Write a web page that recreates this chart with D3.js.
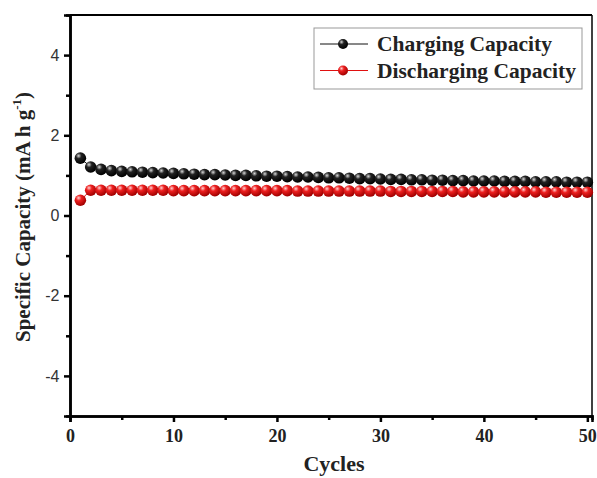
<!DOCTYPE html>
<html><head><meta charset="utf-8">
<script src="https://cdn.jsdelivr.net/npm/d3@7"></script>
<style>body{margin:0;background:#fff;} svg{display:block;}</style>
</head><body>
<svg id="c" width="597" height="478"></svg>
<script>
const cycles = d3.range(1, 51);
const charging = [1.43,1.21,1.15,1.12,1.10,1.09,1.08,1.07,1.06,1.05,1.04,1.03,1.02,1.02,1.01,1.00,1.00,0.99,0.98,0.98,
  0.97,0.96,0.96,0.95,0.94,0.94,0.93,0.92,0.92,0.91,0.90,0.90,0.89,0.89,0.88,0.88,0.87,0.87,0.86,0.86,
  0.86,0.85,0.85,0.85,0.84,0.84,0.84,0.83,0.83,0.83];
const discharging = [0.38,0.63,0.63,0.63,0.63,0.63,0.63,0.63,0.63,0.62,0.62,0.62,0.62,0.62,0.62,0.62,0.62,0.62,0.62,0.62,
  0.62,0.61,0.61,0.61,0.61,0.61,0.61,0.61,0.61,0.61,0.60,0.60,0.60,0.60,0.60,0.60,0.60,0.59,0.59,0.59,
  0.59,0.59,0.59,0.59,0.59,0.58,0.58,0.58,0.58,0.58];
const xTicks = [0,10,20,30,40,50];
const yTicks = [-4,-2,0,2,4];
const seriesNames = ["Charging Capacity","Discharging Capacity"];
const seriesColors = ["#111","#e01010"];

const svg = d3.select("#c");
const L=70, T=15, R=592, B=416;
const x = d3.scaleLinear().domain([0,50.45]).range([L,R]);
const y = d3.scaleLinear().domain([-5,5]).range([B,T]);

const defs = svg.append("defs");
function grad(id, light, mid, dark){
  const g = defs.append("radialGradient").attr("id",id).attr("cx","35%").attr("cy","30%").attr("r","70%");
  g.append("stop").attr("offset","0%").attr("stop-color",light);
  g.append("stop").attr("offset","35%").attr("stop-color",mid);
  g.append("stop").attr("offset","100%").attr("stop-color",dark);
}
grad("gk","#d8d8d8","#222","#000");
grad("gr","#ffd0d0","#ee2020","#a00000");
const grads = ["url(#gk)","url(#gr)"];

svg.append("line").attr("x1",L).attr("x2",R).attr("y1",T).attr("y2",T).attr("stroke","#000").attr("stroke-width",2);
svg.append("line").attr("x1",R).attr("x2",R).attr("y1",T).attr("y2",B).attr("stroke","#000").attr("stroke-width",1.5);

const fmt = d => String(d);
const xAxis = svg.append("g").attr("transform",`translate(0,${B})`)
  .call(d3.axisBottom(x).tickValues(xTicks).tickSize(6).tickFormat(fmt));
const xMinor = svg.append("g").attr("transform",`translate(0,${B})`)
  .call(d3.axisBottom(x).tickValues([5,15,25,35,45]).tickSize(4).tickFormat(""));
const yAxis = svg.append("g").attr("transform",`translate(${L},0)`)
  .call(d3.axisLeft(y).tickValues(yTicks).tickSize(6).tickFormat(fmt));
const yMinor = svg.append("g").attr("transform",`translate(${L},0)`)
  .call(d3.axisLeft(y).tickValues([-3,-1,1,3]).tickSize(4).tickFormat(""));
[xAxis,xMinor,yAxis,yMinor].forEach(g=>{
  g.select(".domain").attr("stroke","#000").attr("stroke-width",2.5);
  g.selectAll(".tick line").attr("stroke","#000").attr("stroke-width",2.5);
});
xAxis.selectAll("text").attr("font-family","Liberation Serif").attr("font-weight","bold")
  .attr("font-size",18).attr("fill","#222").attr("dy","0.95em");
yAxis.selectAll("text").attr("font-family","Liberation Sans").attr("font-size",16)
  .attr("fill","#333").attr("dx","-0.1em");

const data = [charging, discharging];
data.forEach((vals,i)=>{
  const pts = vals.map((v,j)=>[cycles[j],v]);
  svg.append("path").datum(pts).attr("fill","none").attr("stroke",seriesColors[i]).attr("stroke-width",1)
    .attr("d", d3.line().x(d=>x(d[0])).y(d=>y(d[1])));
  svg.append("g").selectAll("circle").data(pts).join("circle")
    .attr("cx",d=>x(d[0])).attr("cy",d=>y(d[1])).attr("r",5.8).attr("fill",grads[i]);
});

svg.append("text").attr("x",334).attr("y",471).attr("text-anchor","middle")
  .attr("font-family","Liberation Serif").attr("font-weight","bold").attr("font-size",22).attr("fill","#222").text("Cycles");
const yl = svg.append("text").attr("transform","translate(30,217) rotate(-90)").attr("text-anchor","middle")
  .attr("font-family","Liberation Serif").attr("font-weight","bold").attr("font-size",21).attr("fill","#222");
yl.append("tspan").text("Specific Capacity (mA h g");
yl.append("tspan").attr("font-size",13).attr("dy","-0.7em").text("-1");
yl.append("tspan").attr("dy","0.45em").text(")");

svg.append("rect").attr("x",314).attr("y",28).attr("width",268).attr("height",61)
  .attr("fill","#fff").attr("stroke","#999").attr("stroke-width",1);
seriesNames.forEach((n,i)=>{
  const yy = 44 + i*26.5;
  svg.append("line").attr("x1",320).attr("x2",368).attr("y1",yy).attr("y2",yy).attr("stroke",seriesColors[i]).attr("stroke-width",1);
  svg.append("circle").attr("cx",343).attr("cy",yy).attr("r",5).attr("fill",grads[i]);
  svg.append("text").attr("x",377).attr("y",yy+7).attr("font-family","Liberation Serif").attr("font-weight","bold")
    .attr("font-size",21.5).attr("fill","#222").text(n);
});
</script>
</body></html>
